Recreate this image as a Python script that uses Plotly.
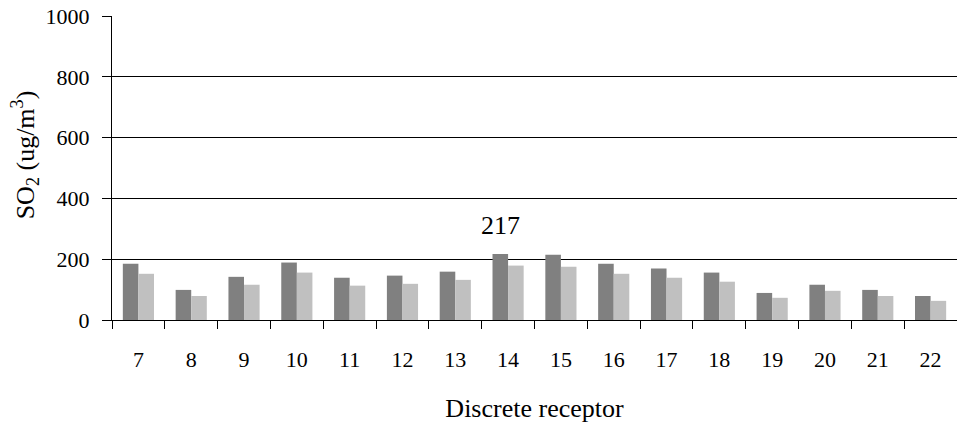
'''
    Grouped bar chart of SO2 concentrations at each discrete receptor.
'''

import plotly.graph_objects as go

RECEPTORS = ['7', '8', '9', '10', '11', '12', '13', '14',
             '15', '16', '17', '18', '19', '20', '21', '22']
SERIES_A = [185, 99, 142, 189, 139, 146, 159, 217,
            215, 185, 169, 156, 89, 116, 99, 79]
SERIES_B = [152, 79, 116, 156, 113, 119, 132, 179,
            175, 152, 139, 126, 73, 96, 79, 63]
Y_TICKS = [0, 200, 400, 600, 800, 1000]

FONT = 'Liberation Serif, Times New Roman, serif'


def init_figure():
    '''
        Sets up the layout: white background, black grid, serif fonts.
    '''
    fig = go.Figure()
    fig.update_layout(
        width=957, height=426,
        margin=dict(l=112, r=0, t=16, b=106),
        plot_bgcolor='white', paper_bgcolor='white',
        font=dict(family=FONT, size=22, color='black'),
        barmode='group', bargap=0.41, bargroupgap=0,
        showlegend=False,
    )
    fig.update_xaxes(
        type='category', tickson='boundaries',
        ticks='outside', ticklen=8, tickcolor='black',
        showline=True, linecolor='black', linewidth=1,
        showgrid=False, ticklabelstandoff=20,
        title=dict(text='Discrete receptor', standoff=27),
        automargin=False,
    )
    # leading non-breaking spaces nudge the rotated title upwards a bit
    fig.update_yaxes(
        range=[0, 1000], tickvals=Y_TICKS,
        ticks='outside', ticklen=9, tickcolor='black',
        showline=True, linecolor='black', linewidth=1,
        showgrid=True, gridcolor='black', gridwidth=1,
        zeroline=False, ticklabelstandoff=8, ticklabeloverflow='allow',
        title=dict(text='&nbsp;&nbsp;&nbsp;&nbsp;SO<sub>2</sub> (ug/m<sup>3</sup>)',
                   standoff=3),
        automargin=False,
    )
    return fig


def draw(fig):
    '''
        Adds both bar series and labels the highest bar.
    '''
    fig.add_trace(go.Bar(name='Series A', x=RECEPTORS, y=SERIES_A,
                         marker=dict(color='#808080', line=dict(width=0))))
    fig.add_trace(go.Bar(name='Series B', x=RECEPTORS, y=SERIES_B,
                         marker=dict(color='#c0c0c0', line=dict(width=0))))

    peak = max(SERIES_A)
    fig.add_annotation(x=SERIES_A.index(peak), y=peak,
                       text=str(peak), showarrow=False,
                       yanchor='bottom', yshift=12, xshift=-8,
                       font=dict(size=26))
    return fig


fig = draw(init_figure())
# drop the browser's default 8px body margin so the figure fills the window
fig.write_html('out.html', config={'displayModeBar': False},
               post_script="document.body.style.margin = '0';")
